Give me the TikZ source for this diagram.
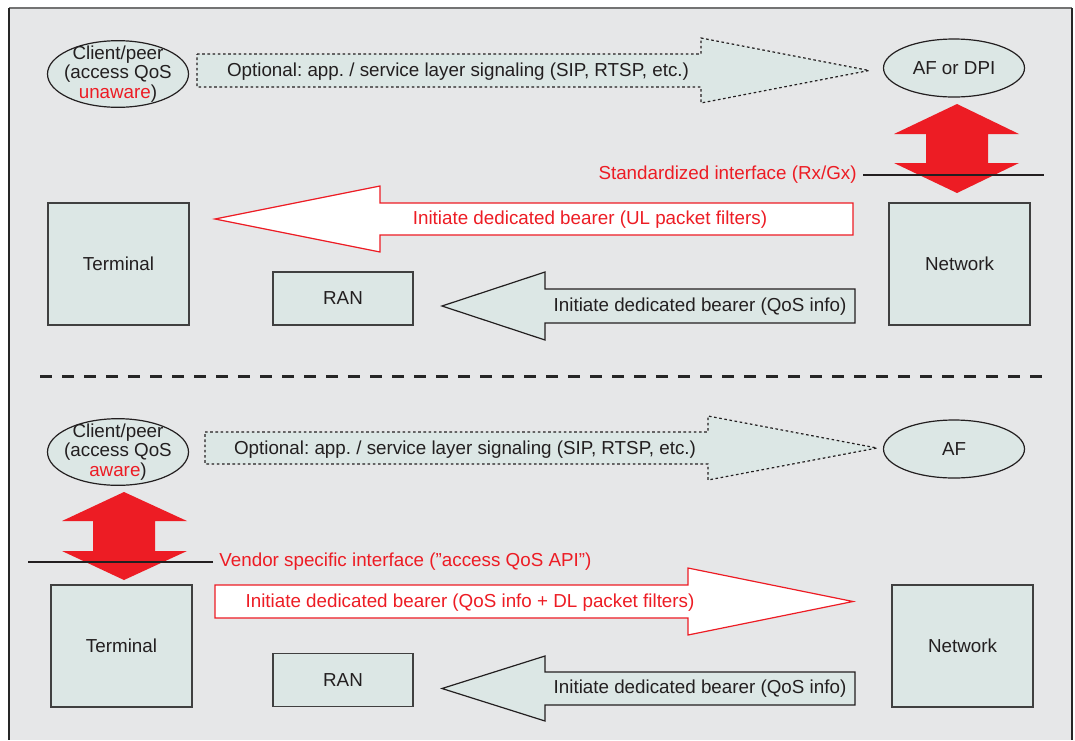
\documentclass[tikz,border=0pt]{standalone}
\usepackage{fontspec}
\setmainfont{Liberation Sans}
\usetikzlibrary{shapes.geometric, positioning}
\definecolor{bggray}{HTML}{E6E7E8}
\definecolor{boxfill}{HTML}{DCE7E5}
\definecolor{sigred}{HTML}{ED1C24}
\definecolor{inkblack}{HTML}{231F20}
\frenchspacing

\begin{document}
\begin{tikzpicture}[x=0.5pt, y=-0.5pt, text=inkblack,
    font=\fontsize{9.4}{9}\selectfont,
    peer/.style={ellipse, draw=inkblack, line width=0.6pt, fill=boxfill,
      inner sep=-2.4pt, minimum width=70.5pt, minimum height=33pt, align=center,
      font=\fontsize{9.4}{9.8}\selectfont},
    afnode/.style={ellipse, draw=inkblack, line width=0.6pt, fill=boxfill,
      inner sep=0pt, minimum width=70.5pt, minimum height=29pt},
    entity/.style={draw=black!75, line width=0.9pt, fill=boxfill,
      inner sep=0pt, minimum width=70.5pt, minimum height=61pt},
    ranbox/.style={entity, minimum width=70pt, minimum height=26.5pt},
    sigarrow/.style={draw=inkblack, fill=boxfill, line width=0.6pt,
      dash pattern=on 1.3pt off 1.3pt},
    bearer/.style={draw=sigred, fill=white, line width=0.6pt},
    qosarrow/.style={draw=inkblack, fill=boxfill, line width=0.6pt},
    ifarrow/.style={fill=sigred},
    ifline/.style={draw=inkblack, line width=1.2pt},
    redlabel/.style={text=sigred}]

  % Frame
  \useasboundingbox (0,0) rectangle (1075,740);%
  \fill [bggray] (9,8) rectangle (1072,740);%
  \draw [black!55, line width=1pt] (9,8) -- (1072,8);%
  \draw [black!85, line width=1pt] (9,8) -- (9,740);%
  \draw [black!85, line width=1pt] (1072,8) -- (1072,740);%

  % Upper case: client unaware
  % -- nodes
  \node [peer] (C1) at (118,74) {Client/peer\\(access QoS\\\textcolor{sigred}{unaware})};%
  \node [afnode] (AF1) at (954,68) {AF or DPI};%
  \node [entity] (Term1) at (118.5,264) {Terminal};%
  \node [entity] (Net1) at (959.5,264) {Network};%
  \node [ranbox] (RAN1) at (343,298.5) {RAN};%
  % -- block arrows
  \draw [sigarrow] (197,54) -- (701,54) -- (701,38) -- (869,70.5) -- (701,103)
  -- (701,87) -- (197,87) -- cycle;%
  \draw [bearer] (853,203) -- (380,203) -- (380,186) -- (215,219) -- (380,252)
  -- (380,235) -- (853,235) -- cycle;%
  \draw [qosarrow] (855,289) -- (545,289) -- (545,272) -- (442,306) -- (545,340)
  -- (545,323) -- (855,323) -- cycle;%
  \fill [ifarrow] (957,104) -- (1019,134) -- (988,134) -- (988,163) -- (1019,163)
  -- (957,193) -- (894,163) -- (926,163) -- (926,134) -- (894,134) -- cycle;%
  % -- labels
  \node (Sig1) at (458,72) {Optional: app. / service layer signaling (SIP, RTSP, etc.)};%
  \node [redlabel] (UL) at (590,220) {Initiate dedicated bearer (UL packet filters)};%
  \node (Qos1) at (700,307) {Initiate dedicated bearer (QoS info)};%
  \node [redlabel, anchor=east, inner sep=0pt] (Std) at (857,175) {Standardized interface (Rx/Gx)};%
  \draw [ifline] ([xshift=3pt]Std.east) -- ++(181,0);%

  % Separator
  \draw [black!85, line width=1.5pt, dash pattern=on 6pt off 5pt] (40,376) -- (1050,376);%

  % Lower case: client aware
  % -- nodes
  \node [peer] (C2) at (118,452) {Client/peer\\(access QoS\\\textcolor{sigred}{aware})};%
  \node [afnode] (AF2) at (954,449) {AF};%
  \node [entity] (Term2) at (121.5,646) {Terminal};%
  \node [entity] (Net2) at (962.5,646) {Network};%
  \node [ranbox] (RAN2) at (343,680) {RAN};%
  % -- block arrows
  \draw [sigarrow] (205,432) -- (708,432) -- (708,416) -- (877,448) -- (708,480)
  -- (708,464) -- (205,464) -- cycle;%
  \draw [bearer] (215,585) -- (688,585) -- (688,568) -- (853,601.5) -- (688,635)
  -- (688,618) -- (215,618) -- cycle;%
  \draw [qosarrow] (855,672) -- (545,672) -- (545,656) -- (442,688.5) -- (545,721)
  -- (545,705) -- (855,705) -- cycle;%
  \fill [ifarrow] (124,492) -- (187,521) -- (155,521) -- (155,551) -- (187,551)
  -- (124,580) -- (62,551) -- (93,551) -- (93,521) -- (62,521) -- cycle;%
  % -- labels
  \node (Sig2) at (465,450) {Optional: app. / service layer signaling (SIP, RTSP, etc.)};%
  \node [redlabel] (DL) at (470,603) {Initiate dedicated bearer (QoS info + DL packet filters)};%
  \node (Qos2) at (700,689) {Initiate dedicated bearer (QoS info)};%
  \node [redlabel, anchor=west, inner sep=0pt] (Vendor) at (219,562) {Vendor specific interface (”access QoS API”)};%
  \draw [ifline] ([xshift=-3pt]Vendor.west) -- ++(-185,0);%
\end{tikzpicture}
\end{document}
